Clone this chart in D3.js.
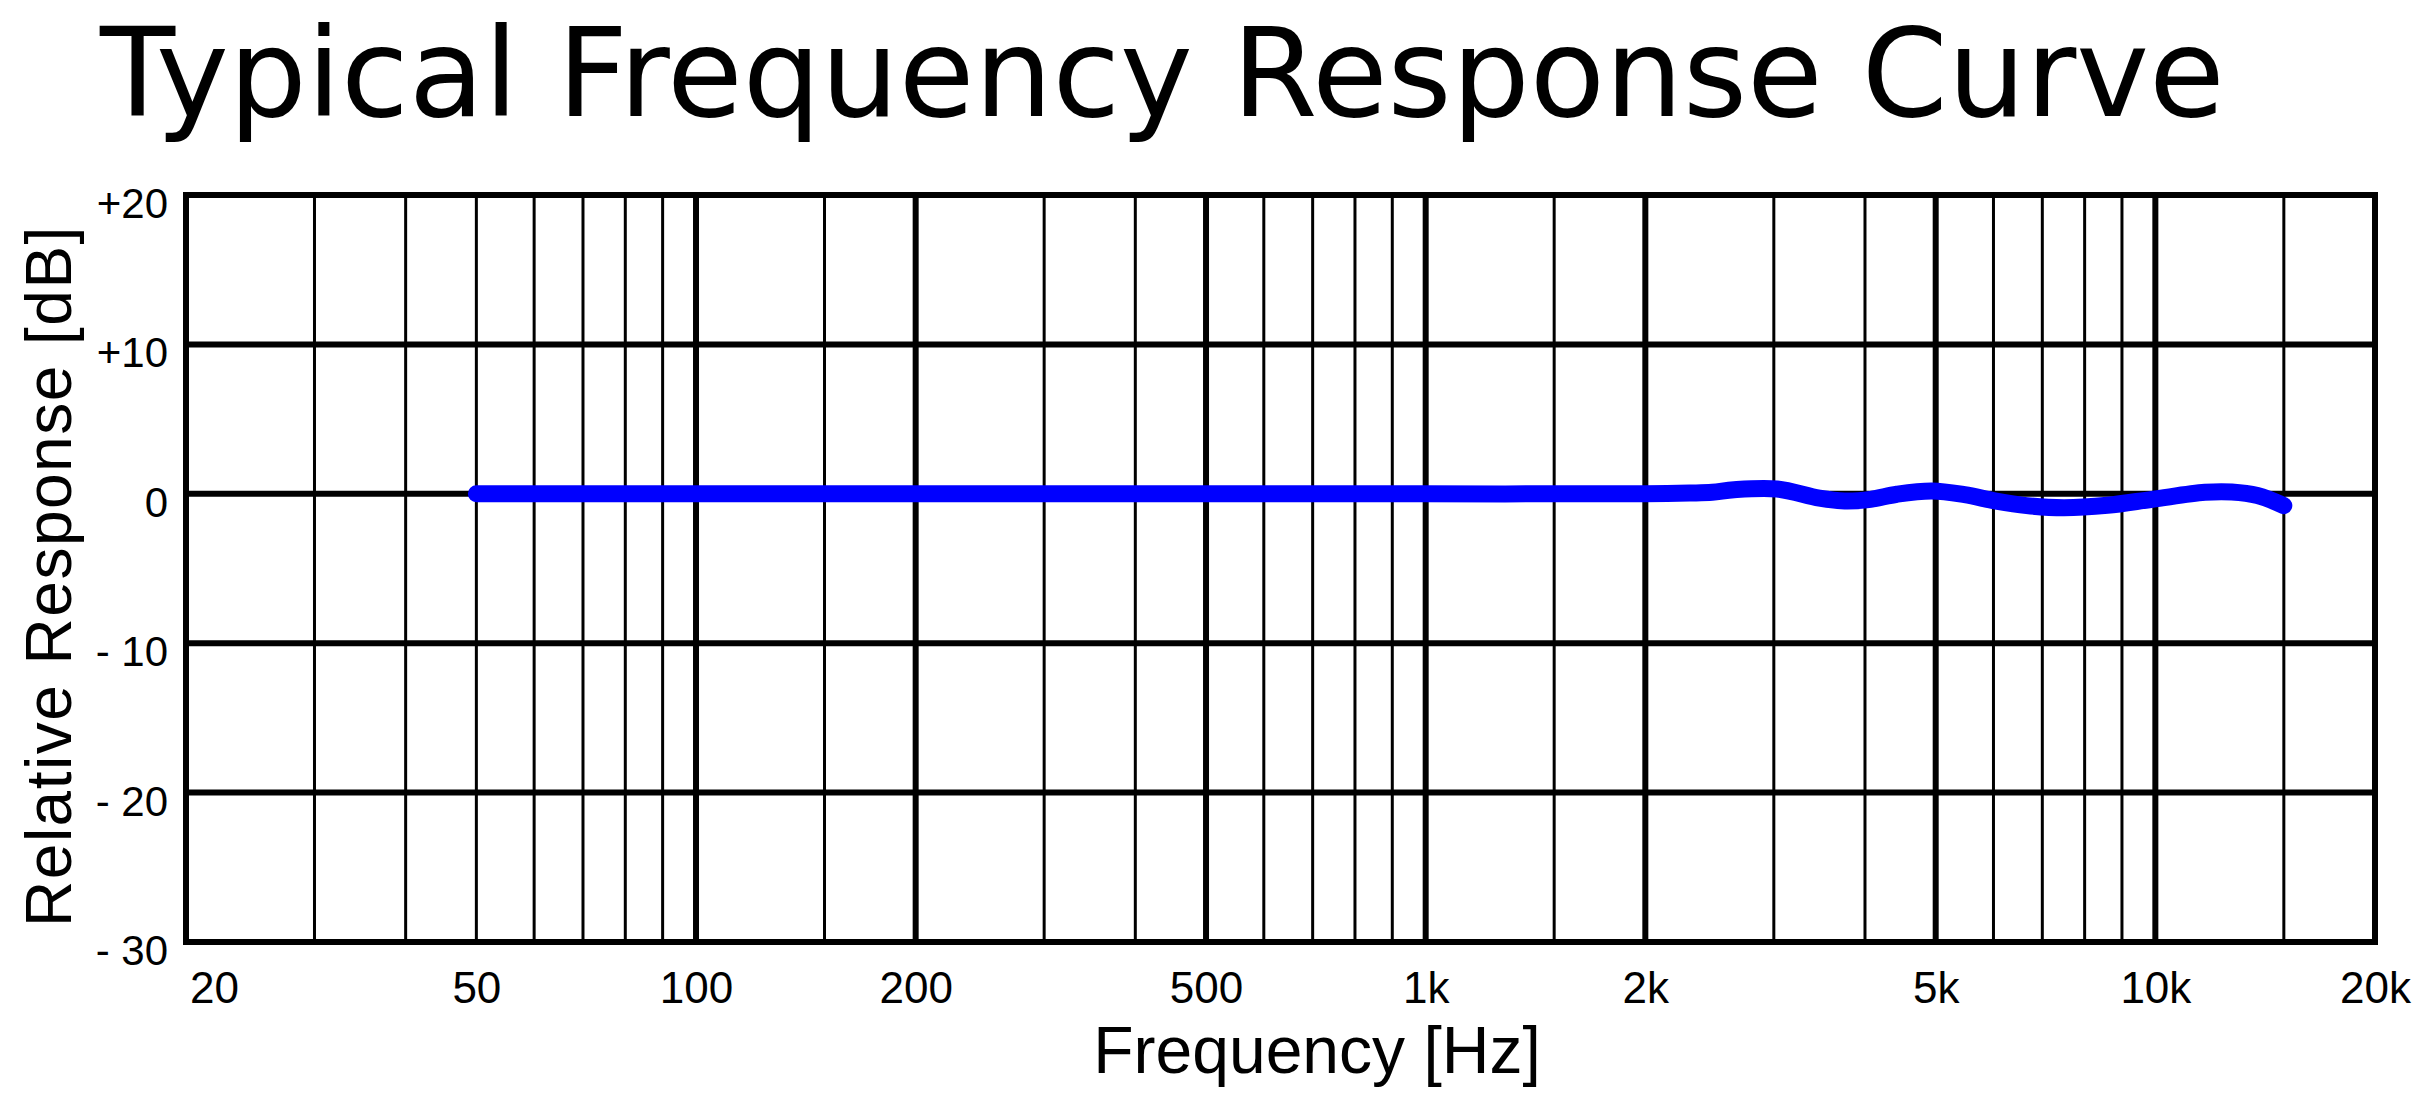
<!DOCTYPE html>
<html>
<head>
<meta charset="utf-8">
<script src="https://cdn.jsdelivr.net/npm/d3@7"></script>
<style>
  html, body { margin: 0; padding: 0; background: #fff; }
  svg { display: block; }
</style>
</head>
<body>
<svg id="chart" width="2420" height="1102"></svg>
<script>
// ---- data ----
const freqs    = [50, 100, 200, 500, 1000, 2000, 2300, 2470, 2646, 3030, 3464, 3752, 4072, 4424, 4940, 5477, 6050, 6665, 7490, 8596, 9900, 11694, 12730, 13800, 15000];
const response = [0, 0, 0, 0, 0, 0, 0.05, 0.1, 0.27, 0.32, -0.29, -0.48, -0.37, -0.03, 0.19, -0.06, -0.49, -0.79, -0.93, -0.77, -0.37, 0.1, 0.12, -0.12, -0.79];

const yTickValues = [20, 10, 0, -10, -20, -30];
const yTickLabels = ["+20", "+10", "0", "- 10", "- 20", "- 30"];
const xTickValues = [20, 50, 100, 200, 500, 1000, 2000, 5000, 10000, 20000];
const xTickLabels = ["20", "50", "100", "200", "500", "1k", "2k", "5k", "10k", "20k"];
const majorGrid = [100, 200, 500, 1000, 2000, 5000, 10000];
const minorGrid = [30, 40, 50, 60, 70, 80, 90, 150, 300, 400, 600, 700, 800, 900, 1500, 3000, 4000, 6000, 7000, 8000, 9000, 15000];
const hGrid = [10, 0, -10, -20];

const titleText = "Typical Frequency Response Curve";
const xTitle = "Frequency [Hz]";
const yTitle = "Relative Response [dB]";

// ---- layout ----
const pLeft = 186, pRight = 2375, pTop = 195, pBottom = 942;
const svg = d3.select("#chart");
const x = d3.scaleLog().domain([20, 20000]).range([pLeft, pRight]);
const y = d3.scaleLinear().domain([-30, 20]).range([pBottom, pTop]);
const sans = "'Liberation Sans', Arial, Helvetica, sans-serif";

svg.append("rect").attr("width", 2420).attr("height", 1102).attr("fill", "#fff");

// title
const t = svg.append("text")
  .attr("x", 100).attr("y", 116)
  .attr("font-family", "'DejaVu Sans', sans-serif")
  .attr("font-size", 121)
  .attr("fill", "#000")
  .text(titleText);
const tw = t.node().getComputedTextLength();
t.attr("font-size", 121 * 2125 / tw);

// grid
const g = svg.append("g");
g.selectAll("line.minor").data(minorGrid).join("line")
  .attr("class", "minor")
  .attr("x1", d => x(d)).attr("x2", d => x(d))
  .attr("y1", pTop).attr("y2", pBottom)
  .attr("stroke", "#000").attr("stroke-width", 3);
g.selectAll("line.major").data(majorGrid).join("line")
  .attr("class", "major")
  .attr("x1", d => x(d)).attr("x2", d => x(d))
  .attr("y1", pTop).attr("y2", pBottom)
  .attr("stroke", "#000").attr("stroke-width", 6);
g.selectAll("line.h").data(hGrid).join("line")
  .attr("class", "h")
  .attr("x1", pLeft).attr("x2", pRight)
  .attr("y1", d => y(d)).attr("y2", d => y(d))
  .attr("stroke", "#000").attr("stroke-width", 6);
g.append("rect")
  .attr("x", pLeft).attr("y", pTop)
  .attr("width", pRight - pLeft).attr("height", pBottom - pTop)
  .attr("fill", "none").attr("stroke", "#000").attr("stroke-width", 6);

// y tick labels
svg.selectAll("text.ytick").data(yTickValues).join("text")
  .attr("class", "ytick")
  .attr("x", 168).attr("y", d => y(d) + 23)
  .attr("text-anchor", "end")
  .attr("font-family", sans).attr("font-size", 42)
  .attr("fill", "#000")
  .text((d, i) => yTickLabels[i]);

// x tick labels via axis
const xAxis = d3.axisBottom(x)
  .tickValues(xTickValues)
  .tickSize(0)
  .tickFormat((d, i) => xTickLabels[i]);
const ax = svg.append("g").attr("transform", `translate(0, 970)`).call(xAxis);
ax.select(".domain").remove();
ax.selectAll("text")
  .attr("y", 0).attr("dy", "0.74em")
  .attr("font-family", sans).attr("font-size", 44)
  .attr("fill", "#000")
  .attr("dx", (d, i) => i === 0 ? 28 : 0);

// axis titles
svg.append("text")
  .attr("x", 1317).attr("y", 1073)
  .attr("text-anchor", "middle")
  .attr("font-family", sans).attr("font-size", 66)
  .attr("fill", "#000")
  .text(xTitle);
svg.append("text")
  .attr("transform", "translate(71, 576) rotate(-90)")
  .attr("text-anchor", "middle")
  .attr("font-family", sans).attr("font-size", 64)
  .attr("letter-spacing", 1.5)
  .attr("fill", "#000")
  .text(yTitle);

// response curve
const pts = freqs.map((f, i) => [f, response[i]]);
const line = d3.line()
  .x(d => x(d[0])).y(d => y(d[1]))
  .curve(d3.curveCatmullRom.alpha(0.5));
svg.append("path")
  .attr("d", line(pts))
  .attr("fill", "none")
  .attr("stroke", "#0000ff")
  .attr("stroke-width", 17)
  .attr("stroke-linecap", "round")
  .attr("stroke-linejoin", "round");
</script>
</body>
</html>
